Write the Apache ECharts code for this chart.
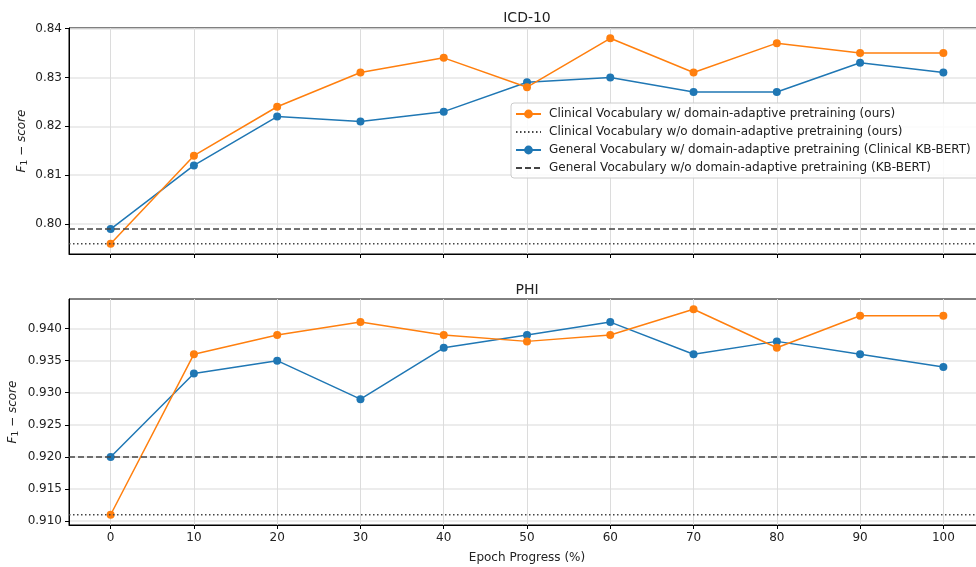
<!DOCTYPE html>
<html><head><meta charset="utf-8">
<script src="https://cdn.jsdelivr.net/npm/echarts@6/dist/echarts.min.js"></script>
<style>html,body{margin:0;padding:0;background:#fff}#c{width:976px;height:567px}</style>
</head><body><div id="c"></div>
<script>
const epochs = [0, 10, 20, 30, 40, 50, 60, 70, 80, 90, 100];
const icdClinicalDAPT = [0.796, 0.814, 0.824, 0.831, 0.834, 0.828, 0.838, 0.831, 0.837, 0.835, 0.835];
const icdGeneralDAPT  = [0.799, 0.812, 0.822, 0.821, 0.823, 0.829, 0.830, 0.827, 0.827, 0.833, 0.831];
const icdClinicalBase = 0.796;
const icdGeneralBase  = 0.799;
const phiClinicalDAPT = [0.911, 0.936, 0.939, 0.941, 0.939, 0.938, 0.939, 0.943, 0.937, 0.942, 0.942];
const phiGeneralDAPT  = [0.920, 0.933, 0.935, 0.929, 0.937, 0.939, 0.941, 0.936, 0.938, 0.936, 0.934];
const phiClinicalBase = 0.911;
const phiGeneralBase  = 0.920;
const xTicks = [0, 10, 20, 30, 40, 50, 60, 70, 80, 90, 100];
const icdTicks = [0.80, 0.81, 0.82, 0.83, 0.84];
const phiTicks = [0.910, 0.915, 0.920, 0.925, 0.930, 0.935, 0.940];
const names = [
  'Clinical Vocabulary w/ domain-adaptive pretraining (ours)',
  'Clinical Vocabulary w/o domain-adaptive pretraining (ours)',
  'General Vocabulary w/ domain-adaptive pretraining (Clinical KB-BERT)',
  'General Vocabulary w/o domain-adaptive pretraining (KB-BERT)'
];
const XMIN = -5, XMAX = 105;
const ORANGE = '#ff7f0e', BLUE = '#1f77b4', DARK = '#444444';
const FONT = 'DejaVu Sans';

function pairs(arr){ return epochs.map((e,i)=>[e, arr[i]]); }
function hline(v){ return [[XMIN, v],[XMAX, v]]; }

const gridCommon = {left: 69, width: 916, height: 226, show: true, borderColor: '#000', borderWidth: 1,
  backgroundColor: 'transparent', containLabel: false, outerBoundsMode: 'none'};

function xAxis(gi, showLabels){
  return {
    type: 'value', gridIndex: gi, min: XMIN, max: XMAX,
    axisLine: {show: true, onZero: false, lineStyle: {color: '#000'}},
    axisTick: {show: true, inside: false, length: 4, customValues: xTicks, lineStyle: {color: '#000'}},
    axisLabel: {show: showLabels, customValues: xTicks, margin: 7, color: '#222', fontSize: 12, fontFamily: FONT},
    splitLine: {show: true, lineStyle: {color: '#dcdcdc', width: 1}},
    name: showLabels ? 'Epoch Progress (%)' : '', nameLocation: 'middle', nameGap: 27, nameMoveOverlap: false,
    nameTextStyle: {color: '#222', fontSize: 12, fontFamily: FONT}
  };
}
function yAxis(gi, mn, mx, ticks, dec){
  return {
    type: 'value', gridIndex: gi, min: mn, max: mx,
    axisLine: {show: true, onZero: false, lineStyle: {color: '#000'}},
    axisTick: {show: true, inside: false, length: 4, customValues: ticks, lineStyle: {color: '#000'}},
    axisLabel: {customValues: ticks, margin: 7, color: '#222', fontSize: 12, fontFamily: FONT,
      formatter: v => v.toFixed(dec)},
    splitLine: {show: true, lineStyle: {color: '#e6e6e6', width: 1.5}},
    name: '{i|F}{s|1}{n| − }{i|score}', nameLocation: 'middle', nameGap: dec === 2 ? 40 : 49, nameRotate: 90,
    nameMoveOverlap: false,
    nameTextStyle: {color: '#222', rich: {
      i: {fontStyle: 'italic', fontSize: 12, fontFamily: FONT, color: '#222'},
      n: {fontSize: 12, fontFamily: FONT, color: '#222'},
      s: {fontSize: 9, fontFamily: FONT, color: '#222', padding: [5, 0, 0, 0]}
    }}
  };
}
function lineSeries(name, data, color, gi, z){
  return {name, type: 'line', xAxisIndex: gi, yAxisIndex: gi, data: pairs(data), z,
    symbol: 'circle', symbolSize: 8, showSymbol: true,
    lineStyle: {color, width: 1.5}, itemStyle: {color}, animation: false};
}
function baseSeries(name, v, type, gi){
  return {name, type: 'line', xAxisIndex: gi, yAxisIndex: gi, data: hline(v), z: 5,
    symbol: 'none', lineStyle: {color: DARK, width: 1.5, type: type}, itemStyle: {color: DARK}, animation: false};
}
const DASH = [6, 3];
const DOT = [1.5, 2.5];

const option = {
  backgroundColor: '#fff',
  animation: false,
  title: [
    {text: 'ICD-10', left: 522, top: 6, textAlign: 'center', textStyle: {fontSize: 14, fontWeight: 'normal', color: '#222', fontFamily: FONT}},
    {text: 'PHI', left: 522, top: 278, textAlign: 'center', textStyle: {fontSize: 14, fontWeight: 'normal', color: '#222', fontFamily: FONT}}
  ],
  grid: [
    Object.assign({top: 28}, gridCommon),
    Object.assign({top: 299}, gridCommon)
  ],
  xAxis: [xAxis(0, false), xAxis(1, true)],
  yAxis: [
    yAxis(0, 0.7939, 0.8401, icdTicks, 2),
    yAxis(1, 0.9094, 0.9446, phiTicks, 3)
  ],
  legend: {
    data: [
      {name: names[0]},
      {name: names[1], itemStyle: {color: 'rgba(0,0,0,0)', borderWidth: 0}},
      {name: names[2]},
      {name: names[3], itemStyle: {color: 'rgba(0,0,0,0)', borderWidth: 0}}
    ],
    orient: 'vertical', left: 511, top: 103,
    itemWidth: 25, itemHeight: 11, itemGap: 6,
    padding: [5, 10, 4, 4],
    backgroundColor: 'rgba(255,255,255,0.85)', borderColor: '#cccccc', borderWidth: 1, borderRadius: 3,
    textStyle: {fontSize: 12, fontFamily: FONT, color: '#222', padding: [0, 0, 0, 3]}
  },
  series: [
    lineSeries(names[2], icdGeneralDAPT, BLUE, 0, 2),
    lineSeries(names[0], icdClinicalDAPT, ORANGE, 0, 3),
    baseSeries(names[1], icdClinicalBase, DOT, 0),
    baseSeries(names[3], icdGeneralBase, DASH, 0),
    lineSeries(names[2], phiGeneralDAPT, BLUE, 1, 2),
    lineSeries(names[0], phiClinicalDAPT, ORANGE, 1, 3),
    baseSeries(names[1], phiClinicalBase, DOT, 1),
    baseSeries(names[3], phiGeneralBase, DASH, 1)
  ]
};
const chart = echarts.init(document.getElementById('c'), null, {renderer: 'canvas'});
chart.setOption(option);
</script></body></html>
